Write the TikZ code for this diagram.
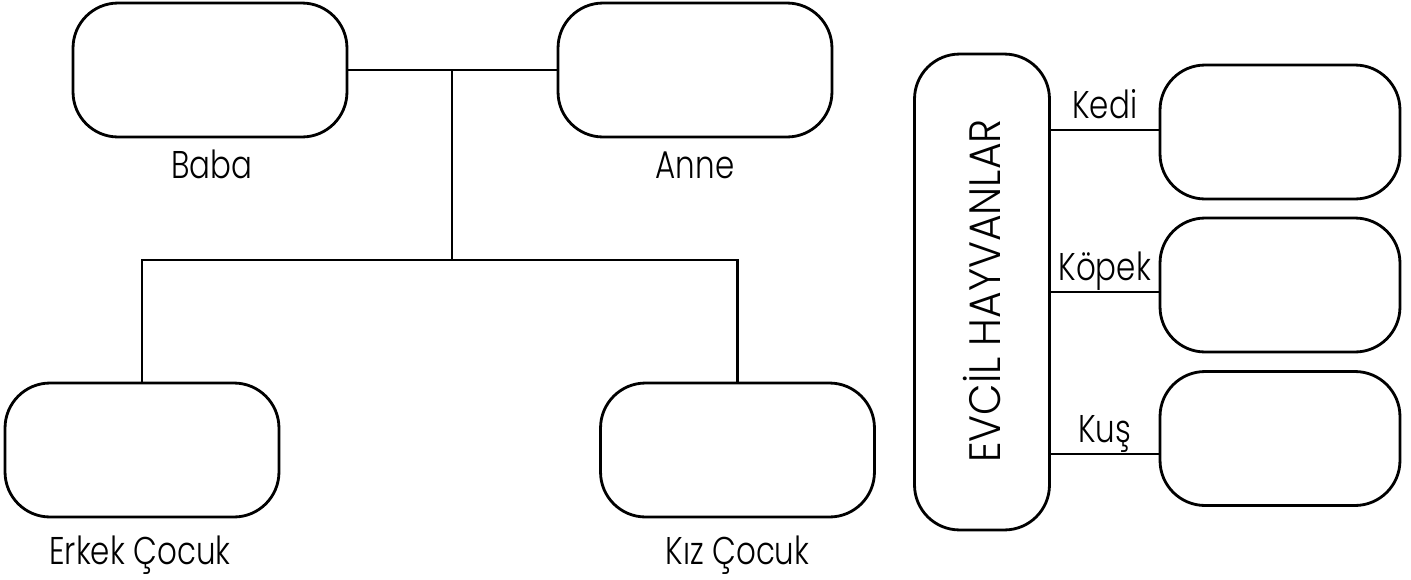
\documentclass[tikz,border=0pt]{standalone}
\usepackage{fontspec}
\setmainfont{Poppins}[UprightFont=* Light]
\newfontfamily\etiketfont{Poppins}[UprightFont=* Light,FakeStretch=0.8]
\newfontfamily\evcilfont{Poppins}[UprightFont=* Light,FakeStretch=0.93]
\tikzset{
  kutu/.style={draw,line width=1.6pt,rounded corners=0.9cm,minimum width=5.48cm,minimum height=2.68cm},
  kucukkutu/.style={kutu,minimum width=4.8cm},
  etiket/.style={font=\etiketfont\fontsize{22}{26}\selectfont,inner sep=0pt,anchor=base},
  hat/.style={line width=1.6pt}
}
\begin{document}
\begin{tikzpicture}[x=0.02cm,y=-0.02cm]
\useasboundingbox (0,0) rectangle (1411,579);
% aile agaci
\node[kutu] (baba) at (210,70) {};
\node[kutu] (anne) at (695,70) {};
\node[kutu] (erkek) at (142,450) {};
\node[kutu] (kiz) at (737.5,450) {};
\node[etiket] (babay) at (212,178) {Baba};
\node[etiket] (anney) at (695,178) {Anne};
\node[etiket] (erkeky) at (140,564) {Erkek Çocuk};
\node[etiket] (kizy) at (737.5,564) {Kız Çocuk};
\coordinate (orta) at (452,71);
\coordinate (ayrim) at (452,260);
\draw[hat] (baba.east) -- (anne.west);
\draw[hat] (orta) -- (ayrim);
\draw[hat] (erkek.north) |- (ayrim) -| (kiz.north);
% evcil hayvanlar
\node[kutu,minimum width=2.7cm,minimum height=9.52cm] (evcil) at (982,292) {};
\node[etiket,anchor=center,rotate=90,font=\evcilfont\fontsize{25}{30}\selectfont] (evcily) at (982,291) {EVCİL HAYVANLAR};
\node[kucukkutu] (kedi) at (1280,132) {};
\node[kucukkutu] (kopek) at (1280,285) {};
\node[kucukkutu] (kus) at (1280,438.5) {};
\coordinate (kedic) at (1100,130);
\coordinate (kopekc) at (1100,292);
\coordinate (kusc) at (1100,454);
\draw[hat] (kedic -| evcil.east) -- node[etiket,anchor=south,above=0.2cm,text depth=0pt] (kediy) {Kedi} (kedic -| kedi.west);
\draw[hat] (kopekc -| evcil.east) -- node[etiket,anchor=south,above=0.2cm,text depth=0pt] (kopeky) {Köpek} (kopekc -| kopek.west);
\draw[hat] (kusc -| evcil.east) -- node[etiket,anchor=south,above=0.2cm,text depth=0pt] (kusy) {Kuş} (kusc -| kus.west);
\end{tikzpicture}
\end{document}
